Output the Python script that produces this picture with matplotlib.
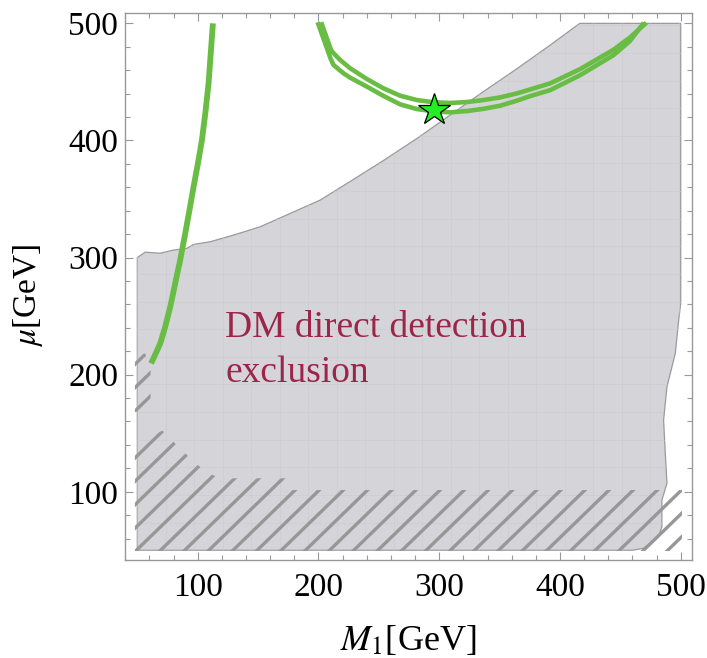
import numpy as np
import matplotlib.pyplot as plt
from matplotlib.patches import Polygon
from matplotlib.ticker import MultipleLocator

plt.rcParams['font.family'] = 'serif'
plt.rcParams['font.serif'] = ['Liberation Serif', 'DejaVu Serif']
plt.rcParams['mathtext.fontset'] = 'stix'

# DM direct detection excluded region (boundary in M1, mu)
excl_m1 = [50, 50, 56.6, 69, 80, 91, 96.6, 110.4, 129.7, 151.8, 176.6, 201.5, 226.3,
           254, 282, 304, 337, 364, 392, 416.4, 500, 500, 498.3,
           495.5, 488.6, 485.8, 487.2, 488.6, 484.4, 484.4, 481.6, 469.2, 460, 50]
excl_mu = [50, 300, 304.6, 303.7, 306.4, 307.8, 311.2, 313.5, 319.2, 326.3, 337.7, 349.1,
           365, 383, 402, 418, 442, 461, 481.5, 500, 500, 261, 246.6,
           218.2, 189.7, 161.2, 132.8, 107.2, 92.9, 70.1, 61.6, 51.7, 50, 50]

# hatched regions
hatch_main_m1 = [48, 48, 71, 81, 91, 101, 113, 120, 176, 177, 501, 501]
hatch_main_mu = [49.4, 146, 152, 141.5, 131.5, 122, 114, 111.5, 111.5, 101.5, 101.5, 49.4]
hatch_left_m1 = [48, 48, 56.6, 61, 61]
hatch_left_mu = [168, 218, 218, 203, 168]

# green contours
left_m1 = [61.4, 65, 69, 73.1, 77.3, 81.4, 85.5, 89.7, 93.2, 96.6, 100.2, 103.5,
           106.3, 109, 111, 112.6]
left_mu = [209.6, 217.5, 226.7, 240.9, 258, 278, 297.9, 320.7, 340.6, 360.5, 380.4,
           400.3, 423.1, 448.8, 477.2, 500]

inner_m1 = [202.2, 210.5, 212.5, 218, 226.3, 240.2, 253.9, 267.7, 281.6, 295.3, 309.2,
            323, 336.7, 350.6, 364.4, 375.4, 392, 416.8, 444.4, 458, 471.5]
inner_mu = [501, 477, 474.5, 468.7, 461.6, 452.4, 444.5, 438.2, 434.5, 432.6, 432,
            432.8, 434.5, 436.8, 440.2, 443.6, 448.8, 461, 477.5, 488, 500.5]
outer_m1 = [199.3, 207.6, 210, 212.5, 220.8, 226.3, 240.2, 253.9, 267.7, 281.6, 295.3,
            309.2, 323, 336.7, 350.6, 364.4, 375.4, 392, 416.8, 444.4, 458, 469.5]
outer_mu = [501, 477, 470, 464.4, 457.3, 453.6, 445.9, 438, 430.8, 426.8, 424.9,
            424, 425.1, 427, 429.7, 434, 437.9, 443, 455.8, 472.9, 485, 500.5]

star_m1, star_mu = 295.3, 426

green = '#69bd45'
frame = '#999999'

fig = plt.figure(figsize=(7.07, 6.58), dpi=100)
ax = fig.add_axes([0.1768, 0.1489, 0.8016, 0.8318])

region = Polygon(np.column_stack([excl_m1, excl_mu]), closed=True,
                 facecolor='#d5d5d9', edgecolor='#9a9a9a', lw=0.9, zorder=1)
ax.add_patch(region)

# faint mesh inside the region
for xv in np.arange(50, 500, 23.6):
    ln, = ax.plot([xv, xv], [40, 510], color='#cdcdd1', lw=0.5, zorder=1.1)
    ln.set_clip_path(region)
for yv in np.arange(50, 500, 23.6):
    ln, = ax.plot([40, 510], [yv, yv], color='#cdcdd1', lw=0.5, zorder=1.1)
    ln.set_clip_path(region)

# hatching
for hm1, hmu in [(hatch_main_m1, hatch_main_mu), (hatch_left_m1, hatch_left_mu)]:
    clip = Polygon(np.column_stack([hm1, hmu]), closed=True, facecolor='none',
                   edgecolor='none')
    ax.add_patch(clip)
    for c in np.arange(-600, 300, 20) + 0.8:
        ln, = ax.plot([0, 600], [c, 600 + c], color='#979797', lw=2.4,
                      solid_capstyle='butt', zorder=2)
        ln.set_clip_path(clip)

ax.text(122.8, 232.4, 'DM direct detection', color='#9c2549', fontsize=27,
        va='baseline', ha='left', zorder=2.5)
ax.text(122.8, 193.9, 'exclusion', color='#9c2549', fontsize=27,
        va='baseline', ha='left', zorder=2.5)

ax.plot(left_m1, left_mu, color=green, lw=4.2, solid_capstyle='butt', zorder=3)
ax.plot(inner_m1, inner_mu, color=green, lw=3.3, solid_capstyle='butt', zorder=3)
ax.plot(outer_m1, outer_mu, color=green, lw=3.3, solid_capstyle='butt', zorder=3)
ax.plot(star_m1, star_mu, marker='*', ms=24, color='#22ee22', mec='black',
        mew=0.9, zorder=4)

ax.set_xlim(39.8, 509.1)
ax.set_ylim(41.7, 509.1)
ax.set_xticks([100, 200, 300, 400, 500])
ax.set_yticks([100, 200, 300, 400, 500])
ax.xaxis.set_minor_locator(MultipleLocator(20))
ax.yaxis.set_minor_locator(MultipleLocator(20))
ax.tick_params(which='both', direction='in', top=True, right=True, color=frame,
               width=0.8, labelsize=24)
ax.tick_params(which='major', length=6)
ax.tick_params(which='minor', length=3.5)
ax.tick_params(axis='x', pad=9)
ax.tick_params(axis='y', pad=5)
for s in ax.spines.values():
    s.set_color(frame)
    s.set_linewidth(1.0)

ax.set_xlabel(r'$M_1$[GeV]', fontsize=26)
ax.set_ylabel(r'$\mu$[GeV]', fontsize=24)
ax.xaxis.set_label_coords(0.5, -0.116)
ax.yaxis.set_label_coords(-0.142, 0.484)

fig.savefig('out.png', dpi=100)
